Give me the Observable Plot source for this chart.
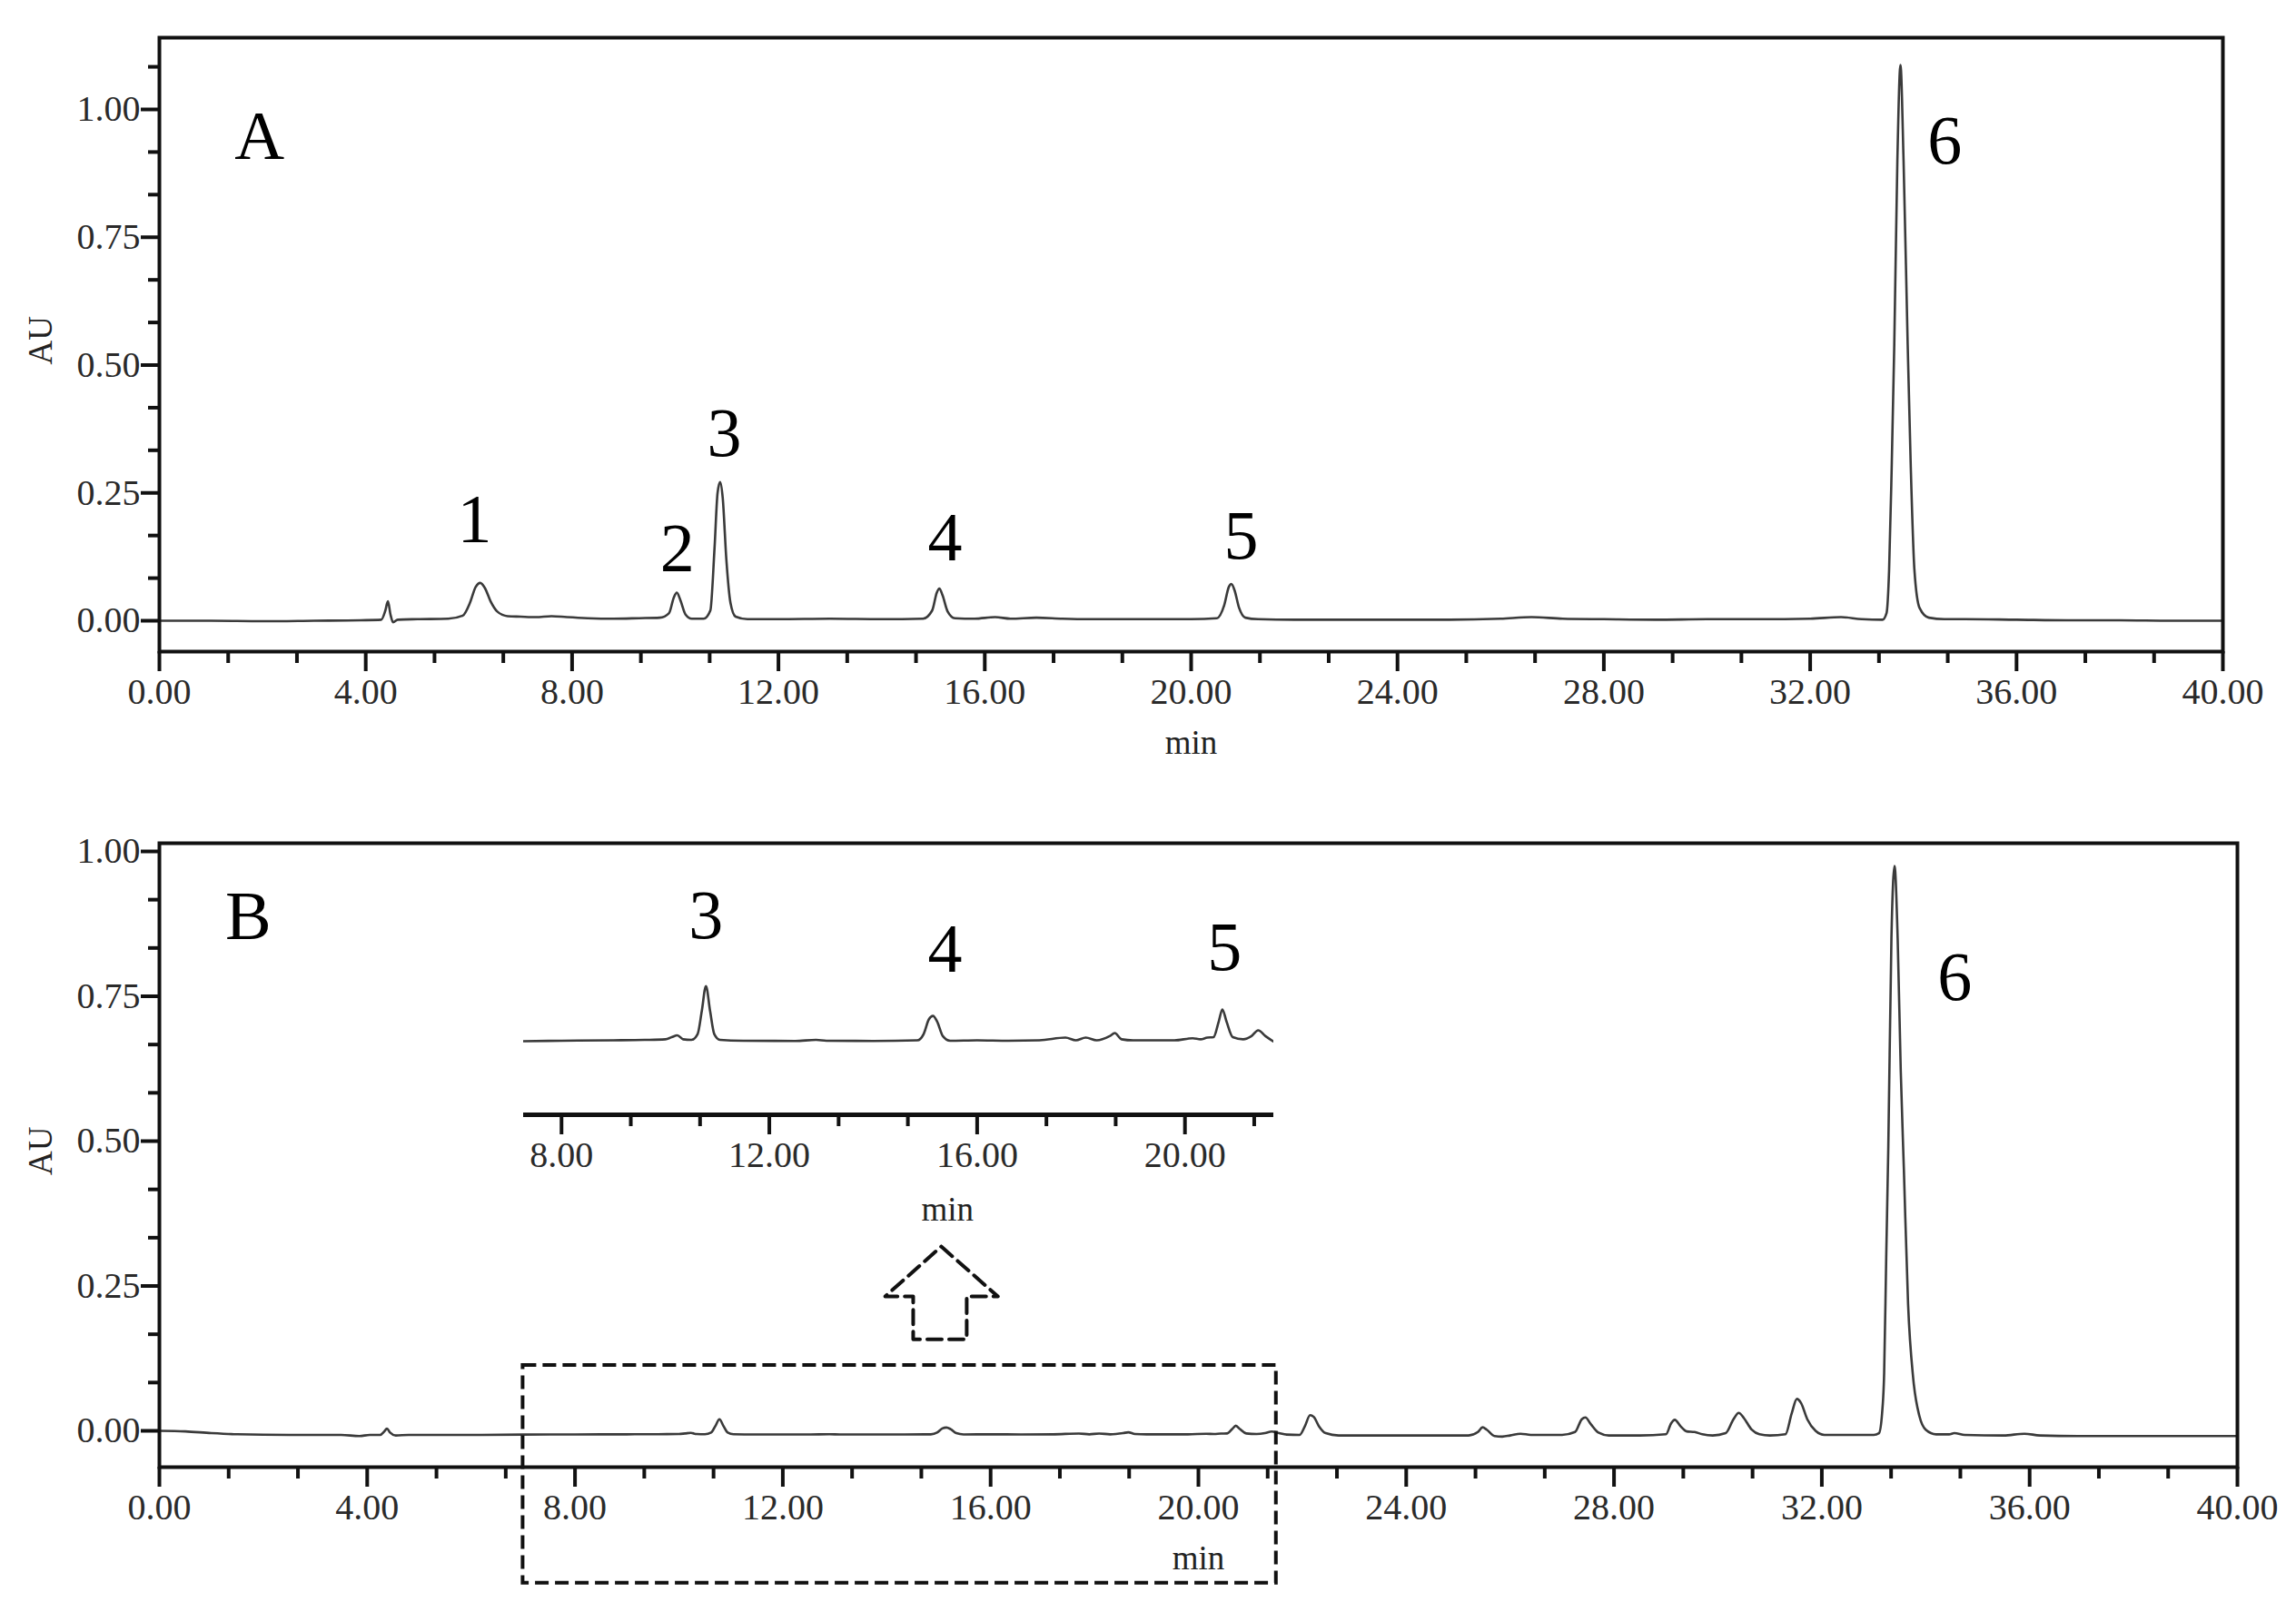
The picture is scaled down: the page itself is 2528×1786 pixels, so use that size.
<!DOCTYPE html>
<html><head><meta charset="utf-8">
<script src="https://cdn.jsdelivr.net/npm/d3@7"></script>
<script src="https://cdn.jsdelivr.net/npm/@observablehq/plot@0.6"></script>
<style>
body{margin:0;background:#fff;}
#wrap{position:relative;width:2528px;height:1786px;background:#fff;overflow:hidden;}
#wrap svg{position:absolute;left:0;}
</style></head><body><div id="wrap"></div>
<script>
// ---- data: chromatogram A (time min, AU) ----
const chromA = [
[0.0,0.000],[1.0,0.000],[2.0,-0.001],[3.0,0.000],[3.9,0.001],[4.30,0.002],[4.38,0.020],[4.43,0.038],[4.48,0.012],[4.53,-0.003],[4.62,0.002],[5.0,0.003],[5.6,0.004],
[5.88,0.010],[6.02,0.035],[6.13,0.066],[6.22,0.074],[6.31,0.064],[6.42,0.038],[6.55,0.018],[6.75,0.009],[7.0,0.008],[7.3,0.007],[7.6,0.009],[7.9,0.007],[8.3,0.005],[8.8,0.004],[9.3,0.005],[9.7,0.006],
[9.88,0.015],[9.97,0.045],[10.03,0.055],[10.10,0.040],[10.20,0.012],[10.32,0.004],[10.55,0.004],
[10.68,0.020],[10.76,0.140],[10.82,0.250],[10.87,0.271],[10.92,0.240],[10.99,0.120],[11.07,0.035],[11.17,0.008],[11.4,0.003],
[12.0,0.003],[13.0,0.004],[14.0,0.003],[14.8,0.004],[14.98,0.020],[15.07,0.055],[15.12,0.063],[15.18,0.050],[15.28,0.018],[15.42,0.005],
[15.8,0.004],[16.2,0.007],[16.5,0.004],[17.0,0.006],[17.5,0.004],[18.0,0.003],[19.0,0.003],[20.0,0.003],
[20.50,0.005],[20.64,0.030],[20.73,0.066],[20.78,0.072],[20.84,0.060],[20.93,0.025],[21.05,0.006],[21.3,0.003],
[22.0,0.002],[23.0,0.002],[24.0,0.002],[25.0,0.002],[26.0,0.004],[26.6,0.007],[27.2,0.004],[28.0,0.003],[29.0,0.002],[30.0,0.003],[31.0,0.003],[32.0,0.004],[32.6,0.007],[33.0,0.003],
[33.40,0.002],[33.48,0.015],[33.53,0.10],[33.58,0.30],[33.63,0.54],[33.69,0.90],[33.75,1.087],[33.81,0.90],[33.89,0.54],[33.95,0.30],[34.02,0.10],[34.12,0.025],[34.30,0.006],
[34.6,0.003],[35.0,0.003],[36.0,0.002],[37.0,0.001],[38.0,0.001],[39.0,0.000],[40.0,0.000]
];
// ---- data: chromatogram B (time min, AU) ----
const chromB = [
[0.0,0.000],[0.5,-0.001],[1.0,-0.004],[1.5,-0.006],[2.5,-0.007],[3.5,-0.007],[3.85,-0.009],[4.05,-0.007],[4.25,-0.007],[4.33,-0.001],[4.38,0.004],[4.44,-0.003],[4.55,-0.008],[4.8,-0.007],
[6.0,-0.007],[7.0,-0.0065],[8.0,-0.0062],[9.0,-0.006],[9.6,-0.0058],[10.0,-0.0055],[10.12,-0.0045],[10.23,-0.0036],[10.34,-0.0055],[10.50,-0.0058],
[10.62,-0.003],[10.70,0.008],[10.78,0.020],[10.86,0.008],[10.94,-0.003],[11.05,-0.0058],[11.5,-0.0062],[12.5,-0.0063],[12.9,-0.0058],[13.1,-0.0062],[14.0,-0.0063],
[14.85,-0.006],[14.97,-0.003],[15.07,0.004],[15.15,0.0057],[15.23,0.003],[15.34,-0.004],[15.48,-0.0062],[16.0,-0.006],[16.6,-0.0062],[17.2,-0.006],
[17.7,-0.0047],[17.9,-0.006],[18.09,-0.0047],[18.3,-0.006],[18.55,-0.004],[18.65,-0.0025],[18.78,-0.0055],[19.0,-0.006],[19.8,-0.006],
[20.15,-0.005],[20.30,-0.0055],[20.43,-0.0047],[20.55,-0.0045],[20.65,0.003],[20.72,0.0088],[20.80,0.003],[20.92,-0.0045],[21.12,-0.0055],[21.28,-0.004],[21.41,-0.0012],[21.55,-0.004],[21.70,-0.0065],
[21.95,-0.007],[22.05,0.008],[22.15,0.027],[22.22,0.024],[22.32,0.008],[22.45,-0.004],[22.7,-0.008],[24.0,-0.008],
[25.2,-0.008],[25.38,-0.002],[25.47,0.006],[25.55,0.002],[25.7,-0.009],[25.85,-0.010],[26.0,-0.008],[26.2,-0.005],[26.4,-0.007],[27.0,-0.007],
[27.25,-0.002],[27.38,0.020],[27.45,0.023],[27.55,0.012],[27.7,-0.003],[27.9,-0.008],[28.5,-0.008],
[29.0,-0.006],[29.10,0.013],[29.17,0.019],[29.28,0.008],[29.40,-0.001],[29.55,-0.002],[29.7,-0.006],[29.9,-0.008],
[30.15,-0.004],[30.30,0.020],[30.40,0.031],[30.50,0.022],[30.65,0.002],[30.8,-0.006],[31.0,-0.008],
[31.3,-0.006],[31.42,0.030],[31.52,0.055],[31.60,0.048],[31.72,0.020],[31.88,0.000],[32.05,-0.007],[32.5,-0.007],[33.0,-0.007],
[33.10,-0.004],[33.16,0.030],[33.20,0.10],[33.24,0.30],[33.28,0.49],[33.34,0.85],[33.40,0.975],[33.46,0.85],[33.52,0.62],[33.58,0.45],[33.66,0.22],[33.76,0.09],[33.88,0.025],[34.00,0.002],[34.2,-0.006],
[34.45,-0.006],[34.55,-0.004],[34.75,-0.007],[35.5,-0.008],[35.9,-0.005],[36.2,-0.008],[37.0,-0.009],[38.0,-0.009],[39.0,-0.009],[40.0,-0.009]
];
// ---- ticks ----
const ticksX = [0,4,8,12,16,20,24,28,32,36,40];
const ticksY = [0,0.25,0.5,0.75,1.0];
const insetTicksX = [8,12,16,20];
// ---- labels (data units) ----
const lettersA = [{label:"A",t:1.94,v:0.947}];
const peaksA = [{label:"1",t:6.11,v:0.197},{label:"2",t:10.04,v:0.140},{label:"3",t:10.95,v:0.366},{label:"4",t:15.23,v:0.162},{label:"5",t:20.97,v:0.165},{label:"6",t:34.61,v:0.938}];
const lettersB = [{label:"B",t:1.71,v:0.887}];
const peaksB = [{label:"6",t:34.56,v:0.782}];
const peaksInset = [{label:"3",t:10.78,v:0.0536},{label:"4",t:15.38,v:0.0375},{label:"5",t:20.76,v:0.0383}];
const zoomBox = [{t1:7.0,t2:21.5,v1:-0.263,v2:0.113}];
const arrowOutline = [[15.05,0.318],[16.14,0.232],[15.54,0.232],[15.54,0.158],[14.51,0.158],[14.51,0.232],[13.97,0.232],[15.05,0.318]];

const FONT = "'Liberation Serif','Times New Roman',serif";
const fmt = d => d.toFixed(2);
const minorX = d3.range(0, 40.001, 4/3).filter(v => Math.abs(v/4 - Math.round(v/4)) > 1e-6);
const minorYall = d3.range(0, 1.2, 1/12).filter(v => Math.abs(v*4 - Math.round(v*4)) > 1e-6);
const insetMinorX = d3.range(0, 40, 4/3).filter(v => v > 7.27 && v < 21.71 && Math.abs(v/4 - Math.round(v/4)) > 1e-6);

function axes(yDom, xTicks, xMinor) {
  const yMinor = minorYall.filter(v => v > yDom[0] && v < yDom[1]);
  return [
    Plot.axisY(ticksY, {tickSize:20, tickPadding:1, tickFormat:fmt, fontSize:40, strokeWidth:4, stroke:"#111", fill:"#2a2a2a", label:null}),
    Plot.axisY(yMinor, {tickSize:12, tickFormat:()=>"", strokeWidth:4, stroke:"#111", label:null}),
    Plot.axisX(xTicks, {tickSize:22, tickPadding:7, tickFormat:fmt, fontSize:40, strokeWidth:4, stroke:"#111", fill:"#2a2a2a", label:null}),
    Plot.axisX(xMinor, {tickSize:13, tickFormat:()=>"", strokeWidth:4, stroke:"#111", label:null})
  ];
}
const txt = (data, size) => Plot.text(data, {x:"t", y:"v", text:"label", fontSize:size, fontFamily:FONT, fill:"#000"});

const wrap = document.getElementById("wrap");

// Panel A
const yDomA = [-0.0604, 1.1403];
const plotA = Plot.plot({
  width:2528, height:880, marginLeft:175, marginRight:81, marginTop:41, marginBottom:163,
  x:{domain:[0,40]}, y:{domain:yDomA},
  style:{fontFamily:FONT, background:"transparent"},
  marks:[
    Plot.line(chromA, {x:d=>d[0], y:d=>d[1], stroke:"#3a3a3a", strokeWidth:2.6, curve:"monotone-x"}),
    Plot.frame({stroke:"#111", strokeWidth:4}),
    ...axes(yDomA, ticksX, minorX),
    Plot.text(["AU"], {frameAnchor:"left", dx:-130, dy:22, rotate:-90, fontSize:37, fontFamily:FONT, fill:"#222"}),
    Plot.text(["min"], {x:20, frameAnchor:"bottom", dy:112, fontSize:37, fontFamily:FONT, fill:"#222"}),
    txt(lettersA, 76), txt(peaksA, 76)
  ]
});
plotA.style.top = "0px";
wrap.appendChild(plotA);

// Panel B
const yDomB = [-0.0627, 1.0141];
const plotB = Plot.plot({
  width:2528, height:906, marginLeft:175, marginRight:65, marginTop:48, marginBottom:171,
  x:{domain:[0,40]}, y:{domain:yDomB},
  style:{fontFamily:FONT, background:"transparent"},
  marks:[
    Plot.line(chromB, {x:d=>d[0], y:d=>d[1], stroke:"#3a3a3a", strokeWidth:2.6, curve:"monotone-x"}),
    Plot.frame({stroke:"#111", strokeWidth:4}),
    ...axes(yDomB, ticksX, minorX),
    Plot.text(["AU"], {frameAnchor:"left", dx:-130, dy:22, rotate:-90, fontSize:37, fontFamily:FONT, fill:"#222"}),
    Plot.text(["min"], {x:20, frameAnchor:"bottom", dy:112, fontSize:37, fontFamily:FONT, fill:"#222"}),
    Plot.rect(zoomBox, {x1:"t1", x2:"t2", y1:"v1", y2:"v2", fill:"none", stroke:"#111", strokeWidth:4, strokeDasharray:"15,7"}),
    Plot.line(arrowOutline, {x:d=>d[0], y:d=>d[1], stroke:"#111", strokeWidth:4, strokeDasharray:"16,8"}),
    txt(lettersB, 76), txt(peaksB, 76)
  ]
});
plotB.style.top = "880px";
wrap.appendChild(plotB);

// Inset (magnified view of B, 7.3-21.7 min)
const insetDomX = [7.27, 21.71];
const insetDomY = [-0.04165, 0.09183];
const inset = Plot.plot({
  width:2528, height:906, marginLeft:576, marginRight:1126, marginTop:40, marginBottom:559,
  x:{domain:insetDomX, axis:null}, y:{domain:insetDomY, axis:null},
  style:{fontFamily:FONT, background:"transparent"},
  marks:[
    Plot.line(chromB.filter(d => d[0] >= insetDomX[0]-0.3 && d[0] <= insetDomX[1]+0.01), {x:d=>d[0], y:d=>d[1], stroke:"#3a3a3a", strokeWidth:2.6, curve:"monotone-x", clip:true}),
    Plot.ruleY([insetDomY[0]], {stroke:"#111", strokeWidth:5}),
    Plot.axisX(insetTicksX, {tickSize:22, tickPadding:7, tickFormat:fmt, fontSize:40, strokeWidth:4, stroke:"#111", fill:"#2a2a2a", label:null}),
    Plot.axisX(insetMinorX, {tickSize:13, tickFormat:()=>"", strokeWidth:4, stroke:"#111", label:null}),
    Plot.text(["min"], {x:15.43, frameAnchor:"bottom", dy:116, fontSize:37, fontFamily:FONT, fill:"#222"}),
    txt(peaksInset, 76)
  ]
});
inset.style.top = "880px";
wrap.appendChild(inset);
</script>
</body></html>
